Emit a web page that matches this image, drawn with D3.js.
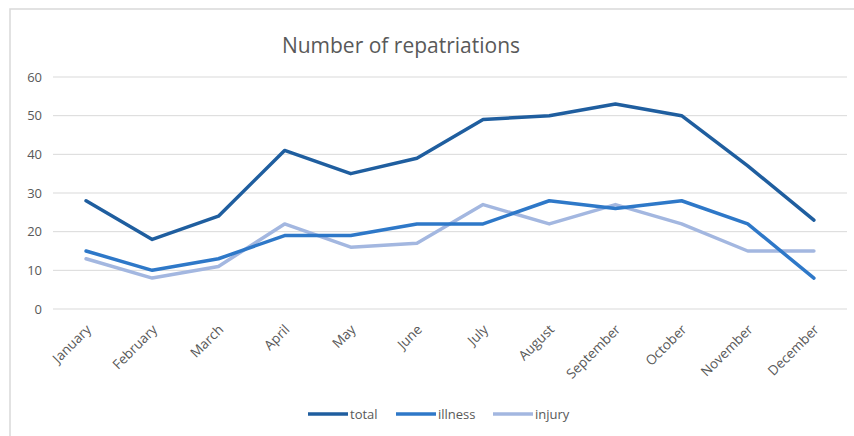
<!DOCTYPE html>
<html>
<head>
<meta charset="utf-8">
<script src="https://cdn.jsdelivr.net/npm/d3@7"></script>
<style>
  body { margin: 0; background: #fff; }
  text { font-family: "Open Sans", "Liberation Sans", sans-serif; fill: #595959; }
</style>
</head>
<body>
<svg id="chart" width="854" height="436"></svg>
<script>
// data
var months = ["January", "February", "March", "April", "May", "June", "July", "August", "September", "October", "November", "December"];
var total = [28, 18, 24, 41, 35, 39, 49, 50, 53, 50, 37, 23];
var illness = [15, 10, 13, 19, 19, 22, 22, 28, 26, 28, 22, 8];
var injury = [13, 8, 11, 22, 16, 17, 27, 22, 27, 22, 15, 15];
var yTicks = [0, 10, 20, 30, 40, 50, 60];

var series = [
  {name: "total", values: total, color: "#1f5e9f"},
  {name: "illness", values: illness, color: "#2e78c8"},
  {name: "injury", values: injury, color: "#a3b7e0"}
];

var svg = d3.select("#chart");

// chart frame
svg.append("rect")
  .attr("x", 10).attr("y", 9)
  .attr("width", 860).attr("height", 440)
  .attr("fill", "none")
  .attr("stroke", "#d9d9d9")
  .attr("stroke-width", 1.5);

var x = d3.scalePoint().domain(months).range([53, 847]).padding(0.5);
var y = d3.scaleLinear().domain([0, 60]).range([309, 77]);

// gridlines
svg.append("g").selectAll("line")
  .data(yTicks)
  .enter().append("line")
    .attr("x1", 53).attr("x2", 847)
    .attr("y1", function (d) { return y(d); })
    .attr("y2", function (d) { return y(d); })
    .attr("stroke", "#d9d9d9")
    .attr("stroke-width", 1);

// y axis labels
var yAxis = d3.axisLeft(y).tickValues(yTicks).tickSize(0).tickPadding(0);
var gy = svg.append("g").attr("transform", "translate(42,0)").call(yAxis);
gy.select(".domain").remove();
gy.selectAll("text")
  .attr("font-size", 13)
  .style("fill", "#595959")
  .style("font-family", "'Open Sans', sans-serif");

// x axis labels, rotated
var xAxis = d3.axisBottom(x).tickSize(0).tickPadding(0);
var gx = svg.append("g").attr("transform", "translate(0,318)").call(xAxis);
gx.select(".domain").remove();
gx.selectAll("text")
  .attr("font-size", 13.5)
  .style("fill", "#595959")
  .style("font-family", "'Open Sans', sans-serif")
  .attr("text-anchor", "end")
  .attr("dy", "0.35em")
  .attr("transform", "translate(2,9) rotate(-45)");

// title
svg.append("text")
  .attr("x", 401).attr("y", 53)
  .attr("text-anchor", "middle")
  .attr("font-size", 21)
  .text("Number of repatriations");

// lines
var line = d3.line()
  .x(function (d, i) { return x(months[i]); })
  .y(function (d) { return y(d); });

series.slice().reverse().forEach(function (s) {
  svg.append("path")
    .datum(s.values)
    .attr("fill", "none")
    .attr("stroke", s.color)
    .attr("stroke-width", 3.5)
    .attr("stroke-linejoin", "round")
    .attr("stroke-linecap", "round")
    .attr("d", line);
});

// legend
var legendX = [308, 396, 493];
var lg = svg.append("g").selectAll("g")
  .data(series)
  .enter().append("g")
    .attr("transform", function (d, i) { return "translate(" + legendX[i] + ",414)"; });
lg.append("line")
  .attr("x1", 0).attr("x2", 40)
  .attr("stroke", function (d) { return d.color; })
  .attr("stroke-width", 3.5);
lg.append("text")
  .attr("x", 42).attr("dy", "0.35em")
  .attr("font-size", 13)
  .text(function (d) { return d.name; });
</script>
</body>
</html>
